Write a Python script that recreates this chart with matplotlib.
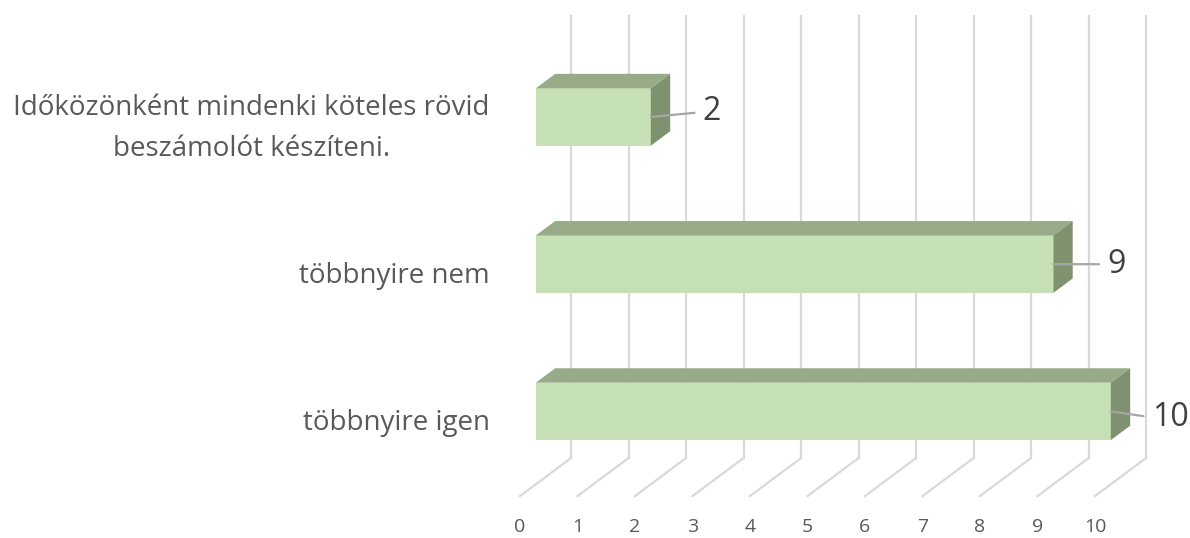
import matplotlib
matplotlib.use("Agg")
import matplotlib.pyplot as plt
from matplotlib.patches import Polygon

categories = ["többnyire igen", "többnyire nem",
              "Időközönként mindenki köteles rövid\nbeszámolót készíteni."]
values = [10, 9, 2]
ticks = list(range(0, 11))

FRONT = "#C5E0B4"
TOP = "#97AB88"
SIDE = "#7F9270"
GRID = "#D9D9D9"
LEADER = "#A6A6A6"
TEXT = "#595959"
LABEL = "#404040"

plt.rcParams['font.family'] = ['Open Sans', 'DejaVu Sans']

# pseudo-3d projection, all in data units
PX_X, PX_Y = 57.5, 147.2      # pixels per value unit / per category
DX, DY = 51 / PX_X, 38 / PX_Y  # floor depth (front -> back)
BAR_D0, BAR_D1 = 0.31, 0.69    # bar depth range (0 = front, 1 = back wall)
HALF_H = 0.195
FLOOR = -0.317
WALL_TOP = 2.686

# label offsets (pixels) chosen the way the original placed them
label_offsets = [(41, -6), (54, 0), (52, 5)]


def main():
    fig = plt.figure(figsize=(11.9, 5.38), dpi=100)
    ax = fig.add_axes([0, 0, 1, 1])
    ax.set_xlim(-571 / PX_X, (1190 - 571) / PX_X)
    ax.set_ylim((411.4 - 538) / PX_Y, 411.4 / PX_Y)
    ax.axis('off')

    # back wall grid + floor lines
    for t in ticks:
        ax.plot([t, t], [FLOOR, WALL_TOP], color=GRID, lw=1.6, zorder=1)
        ax.plot([t, t - DX], [FLOOR, FLOOR - DY], color=GRID, lw=1.6, zorder=1)
        ax.text(t - DX, FLOOR - DY - 0.21, str(t), ha='center', va='center',
                fontsize=14, color=TEXT)

    x0 = -(1 - BAR_D0) * DX
    bx = (BAR_D1 - BAR_D0) * DX
    by = (BAR_D1 - BAR_D0) * DY
    for i, (cat, v) in enumerate(zip(categories, values)):
        y0, y1 = i - HALF_H, i + HALF_H
        x1 = x0 + v
        front = Polygon([(x0, y0), (x1, y0), (x1, y1), (x0, y1)],
                        closed=True, fc=FRONT, ec='none', zorder=3)
        top = Polygon([(x0, y1), (x1, y1), (x1 + bx, y1 + by), (x0 + bx, y1 + by)],
                      closed=True, fc=TOP, ec='none', zorder=3)
        side = Polygon([(x1, y0), (x1 + bx, y0 + by), (x1 + bx, y1 + by), (x1, y1)],
                       closed=True, fc=SIDE, ec='none', zorder=3)
        for p in (front, top, side):
            ax.add_patch(p)

        # category label on the front of the floor
        ax.text(x0 - 0.8, i - BAR_D0 * DY, cat, ha='right', va='center',
                fontsize=20, color=TEXT, multialignment='center',
                linespacing=1.6)

        dx, dy = label_offsets[i]
        ax.annotate(str(v), xy=(x1, i), xytext=(dx, dy),
                    textcoords='offset pixels', ha='left', va='center',
                    fontsize=23, color=LABEL, zorder=5,
                    arrowprops=dict(arrowstyle='-', color=LEADER, lw=1.6,
                                    shrinkA=4, shrinkB=0, relpos=(0, 0.5)))

    fig.savefig('out.png', dpi=100)


if __name__ == '__main__':
    main()
